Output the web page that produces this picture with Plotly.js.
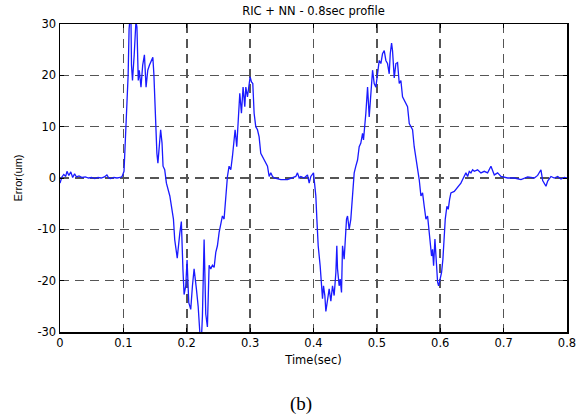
<!DOCTYPE html>
<html>
<head>
<meta charset="utf-8">
<script src="https://cdn.plot.ly/plotly-3.0.1.min.js"></script>
<style>html,body{margin:0;padding:0;background:#fff;}#chart{width:583px;height:416px;}</style>
</head>
<body>
<div id="chart"></div>
<script>
// Time (sec) samples
var timeSec = [
  0, 0.003, 0.006, 0.009, 0.011, 0.014, 0.017, 0.02, 0.023, 0.026, 0.03, 0.035, 0.04, 0.045, 0.05, 0.055, 0.06, 0.065, 0.07, 0.074, 0.077, 0.08, 0.085, 0.09, 0.095, 0.098,
  0.101, 0.1037, 0.1075, 0.109, 0.110, 0.1118, 0.1128, 0.1144, 0.1171, 0.1198, 0.1214, 0.1235, 0.1251, 0.1278, 0.1305, 0.1332, 0.1358, 0.1385, 0.1412, 0.1439, 0.1465, 0.1481, 0.1503, 0.1529, 0.1545, 0.1572, 0.1588, 0.161, 0.1626, 0.1652, 0.1679, 0.1733, 0.179,
  0.181, 0.185, 0.189, 0.1915, 0.194, 0.1958, 0.1984, 0.2005, 0.2032, 0.2063, 0.209, 0.2116, 0.2153, 0.218, 0.2206, 0.2233,
  0.2247, 0.2274, 0.23, 0.2326, 0.2353, 0.2379, 0.2405, 0.2432, 0.2458, 0.2484, 0.2511, 0.2537, 0.2563, 0.2589, 0.2616, 0.2642, 0.2668, 0.2695, 0.2721, 0.2747, 0.2763, 0.2789, 0.2811, 0.2837, 0.2863, 0.2889, 0.2916, 0.2932, 0.2958, 0.2984, 0.3, 0.3021, 0.3042, 0.3063, 0.3089, 0.3116, 0.3142, 0.3168, 0.3195, 0.3221, 0.3274, 0.33, 0.3326, 0.3353, 0.3379, 0.3484, 0.3589, 0.3721, 0.3747, 0.3774,
  0.38, 0.3853, 0.3905, 0.3932, 0.3958, 0.4, 0.4021, 0.4037, 0.4053, 0.4074, 0.4105, 0.4126, 0.4142, 0.4158, 0.4179, 0.4195, 0.4221, 0.4247, 0.4274, 0.43, 0.4326, 0.4353, 0.4368, 0.4379, 0.4405, 0.4421, 0.4442, 0.4458, 0.4484, 0.45, 0.4521, 0.4537, 0.4563, 0.4589, 0.4616, 0.4642, 0.4668, 0.4695, 0.4721, 0.4747, 0.4774, 0.4789, 0.4826, 0.4853, 0.4879, 0.4895, 0.4916, 0.4932, 0.4958, 0.4984, 0.5011, 0.5037, 0.5063, 0.5089, 0.5116, 0.5142, 0.5168, 0.5195, 0.5211, 0.5232, 0.5247,
  0.5274, 0.53, 0.5326, 0.5353, 0.5379, 0.5405, 0.5432, 0.5458, 0.5484, 0.5511, 0.5537, 0.5563, 0.5589, 0.5616, 0.5642, 0.5668, 0.5695, 0.5721, 0.5747, 0.5774, 0.58, 0.5826, 0.5842, 0.5863, 0.5879, 0.5895, 0.5916, 0.5937, 0.5958, 0.5974, 0.6, 0.6021, 0.6042, 0.6063, 0.6079, 0.6105, 0.6126, 0.6147, 0.6168, 0.6221, 0.6274, 0.6326, 0.6353, 0.6379, 0.6405, 0.6432, 0.6458, 0.6484, 0.6511, 0.6537, 0.6589, 0.6642, 0.6695, 0.6747, 0.68,
  0.6853, 0.6905, 0.6958, 0.7063, 0.7168, 0.7274, 0.7379, 0.7484, 0.7537, 0.7589, 0.7616, 0.7642, 0.7668, 0.7695, 0.7747, 0.78, 0.7853, 0.7905, 0.7958, 0.8
];
// Tracking error (um) samples
var errorUm = [
  -1, 0.2, 0.7, 0.3, 1.3, 0.5, 1.2, 0.1, 0.8, 0.2, 0.4, 0.1, 0.2, 0, 0.1, -0.1, 0.1, 0, 0.2, 0.6, 0, -0.1, 0.1, 0, 0.1, 0.3,
  1.3, 9.4, 20, 29, 32, 33, 22, 19, 24, 30.5, 29.4, 19, 21, 17.7, 22, 24, 17.7, 21, 22, 23, 23.5, 20.3, 12.6, 4.8, 2.9, 8, 9.4, 6.8, 2.3, 1.6, -1, -3.5, -8,
  -12, -15.6, -10.8, -8.5, -17.9, -22.7, -21, -16, -24.3, -25.6, -21, -17.7, -21.7, -25, -30, -31,
  -27, -12, -26.5, -29, -17, -17.7, -17, -17.4, -14.5, -13.2, -10.6, -8.7, -7.4, -8, -2.9, 0.3, 2.3, 1.6, 4.2, 7.4, 9.4, 6.1, 11.3, 16.5, 12.6, 17.7, 13.9, 17.7, 15.8, 19, 19.7, 18.7, 18.4, 12.6, 10, 9.4, 8, 4.8, 4.2, 3.5, 2.3, 0.3, 1, 0.3, 0, -0.3, -0.3, 0.3, 1, 0,
  0.3, 0, 0.6, -1, 0.3, 1, -1.6, -3.5, -8, -13.2, -17.1, -20.3, -23.5, -21, -22.9, -26, -23.5, -21.6, -24, -21, -22.9, -18.4, -13.2, -17.7, -21, -19.7, -22.3, -13.2, -15.8, -11.9, -8, -7.4, -10, -8, -2.9, 1, 2.3, 3.5, 6.1, 6.8, 8.7, 7.4, 12.6, 17.7, 11.9, 14.5, 19, 21, 18.4, 17.7, 20.3, 22.9, 22.3, 24.2, 24.8, 22.9, 22.3, 20.3, 24.2, 26.3, 24.8,
  19.5, 22.3, 22.5, 18.4, 19, 15.8, 15.2, 14.5, 13.9, 10.6, 10, 9.4, 6.1, 4.2, 2.3, -0.3, -3.5, -2.9, -5.5, -8, -7.4, -10.6, -13.2, -15.2, -13.9, -17.1, -11.9, -17.1, -20.3, -21, -19.7, -18.4, -15.8, -11.3, -8, -5.5, -6.1, -4.2, -2.9, -2.6, -1.9, -1, -0.3, 0.3, 1, 0.3, 1.3, 1, 1.6, 1.3, 1.6, 1, 1.3, 1, 2.3,
  0.6, 1, 0.3, 0, 0, -0.3, 0.2, 0, 0.5, 1.6, -0.5, -1, -1.6, -0.6, 0.3, 0, 0.3, -0.2, 0.1, 0
];
var xTicks = [0, 0.1, 0.2, 0.3, 0.4, 0.5, 0.6, 0.7, 0.8];
var yTicks = [-30, -20, -10, 0, 10, 20, 30];
var chartTitle = 'RIC + NN - 0.8sec profile';
var xLabel = 'Time(sec)';
var yLabel = 'Error(um)';
var caption = '(b)';

var wideFont = {family: 'DejaVu Sans, sans-serif', size: 11.5, color: '#000'};
var yTitleFont = {family: 'Liberation Sans, Arial, sans-serif', size: 11, color: '#000'};

var trace = {
  x: timeSec, y: errorUm, type: 'scatter', mode: 'lines',
  line: {color: '#1a1aff', width: 1.3},
  hoverinfo: 'skip', showlegend: false
};

var commonAxis = {
  showline: true, mirror: 'ticks', linecolor: '#000', linewidth: 1.5,
  ticks: 'inside', ticklen: 4, tickcolor: '#000', tickwidth: 1,
  showgrid: true, gridcolor: '#555', gridwidth: 1.6, griddash: '9px,6px',
  zeroline: false, tickfont: wideFont, fixedrange: true
};

var layout = {
  width: 583, height: 416,
  margin: {l: 60, r: 16, t: 24, b: 84},
  paper_bgcolor: '#fff', plot_bgcolor: '#fff',
  title: {text: chartTitle, font: {family: 'DejaVu Sans, sans-serif', size: 11.5, color: '#000'},
          x: 0.5, xref: 'paper', xanchor: 'center', y: 1 - 11/416, yref: 'container', yanchor: 'middle'},
  xaxis: Object.assign({}, commonAxis, {
    range: [0, 0.8], tickvals: xTicks, ticktext: xTicks.map(String),
    title: {text: xLabel, font: wideFont, standoff: 6}
  }),
  yaxis: Object.assign({}, commonAxis, {
    range: [-30, 30], tickvals: yTicks, ticktext: yTicks.map(String),
    title: {text: yLabel, font: yTitleFont, standoff: 12}
  }),
  annotations: [{
    text: caption, xref: 'paper', yref: 'paper', x: (301 - 60) / 507, y: (332 - 404) / 308,
    xanchor: 'center', yanchor: 'middle', showarrow: false,
    font: {family: 'Liberation Serif, Times New Roman, serif', size: 19, color: '#000'}
  }]
};

Plotly.newPlot('chart', [trace], layout, {staticPlot: true, displayModeBar: false});
</script>
</body>
</html>
